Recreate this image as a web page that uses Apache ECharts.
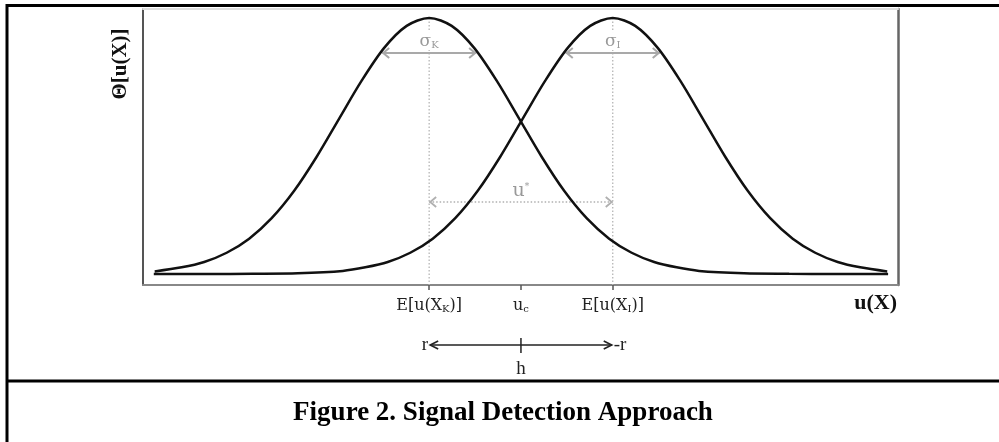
<!DOCTYPE html>
<html><head><meta charset="utf-8">
<script src="https://cdn.jsdelivr.net/npm/echarts@6/dist/echarts.min.js"></script>
<style>html,body{margin:0;padding:0;background:#fff}#c{width:999px;height:442px}</style>
</head><body><div id="c"></div>
<script>
// ---- data ----
const tickValues = [-1.02, 0, 1.02];
const tickLabels = ['E[u(X{s|K})]', 'u{s|c}', 'E[u(X{s|I})]'];

const curveK_u = [-4.07, -3.77, -3.52, -3.27, -3.02, -2.77, -2.52, -2.27, -2.02, -1.77, -1.52, -1.27, -1.02, -0.77, -0.52, -0.27, -0.02, 0.23, 0.48, 0.73, 0.98, 1.23, 1.48, 1.73, 1.98, 2.48, 2.98, 3.48, 4.08];
const curveK_v = [0.010, 0.026, 0.047, 0.083, 0.138, 0.218, 0.325, 0.458, 0.607, 0.755, 0.883, 0.969, 1.000, 0.969, 0.883, 0.755, 0.607, 0.458, 0.325, 0.218, 0.138, 0.083, 0.047, 0.026, 0.012, 0.003, 0.001, 0.000, 0.000];
const curveI_u = [-4.08, -3.48, -2.98, -2.48, -1.98, -1.73, -1.48, -1.23, -0.98, -0.73, -0.48, -0.23, 0.02, 0.27, 0.52, 0.77, 1.02, 1.27, 1.52, 1.77, 2.02, 2.27, 2.52, 2.77, 3.02, 3.27, 3.52, 3.77, 4.07];
const curveI_v = [0.000, 0.000, 0.001, 0.003, 0.012, 0.026, 0.047, 0.083, 0.138, 0.218, 0.325, 0.458, 0.607, 0.755, 0.883, 0.969, 1.000, 0.969, 0.883, 0.755, 0.607, 0.458, 0.325, 0.218, 0.138, 0.083, 0.047, 0.026, 0.010];

const peakU = [-1.02, 1.02];
const sigmaHalf = [0.522, 0.522];
const sigmaLevel = [0.863, 0.863];
const sigmaSubs = ['K', 'I'];
const uStarLevel = 0.281;
const arrowTexts = ['r', '-r', 'h'];
const yAxisName = 'Θ[u(X)]';
const xAxisName = 'u(X)';
const caption = 'Figure 2. Signal Detection Approach';

const xMin = -4.2, xMax = 4.19, yMin = -0.043, yMax = 1.035;

// ---- helpers ----
function chevron(tx, ty, dir, len, half, color, lw) {
  return {type: 'polyline', shape: {points: [[tx - dir * len, ty - half], [tx, ty], [tx - dir * len, ty + half]]},
    style: {stroke: color, lineWidth: lw, fill: null}};
}
const GRAY = '#a9a9a9';
const CAMB = '"DejaVu Serif", serif';
const TIMES = '"Liberation Serif", serif';

const chart = echarts.init(document.getElementById('c'), null, {renderer: 'canvas'});
chart.setOption({
  animation: false,
  backgroundColor: '#fff',
  grid: {left: 143, right: 101, top: 9, bottom: 157},
  xAxis: [{
    type: 'value', min: xMin, max: xMax,
    axisLine: {onZero: false, lineStyle: {color: '#888', width: 2}},
    axisTick: {show: true, customValues: tickValues, length: 5, lineStyle: {color: '#555', width: 1.5}},
    axisLabel: {
      customValues: tickValues, margin: 13, color: '#222', fontFamily: CAMB, fontSize: 16,
      formatter: function (v) {
        for (let i = 0; i < tickValues.length; i++) if (Math.abs(tickValues[i] - v) < 1e-6) return tickLabels[i];
        return '';
      },
      rich: {s: {fontSize: 10, fontFamily: CAMB, color: '#222', verticalAlign: 'bottom', lineHeight: 6}}
    },
    splitLine: {show: false}
  }, {
    type: 'value', min: xMin, max: xMax, position: 'top',
    axisLine: {onZero: false, lineStyle: {color: '#ddd', width: 2}}, axisTick: {show: false}, axisLabel: {show: false}, splitLine: {show: false}
  }],
  yAxis: [{
    type: 'value', min: yMin, max: yMax,
    axisLine: {show: true, onZero: false, lineStyle: {color: '#555', width: 2}}, axisTick: {show: false}, axisLabel: {show: false}, splitLine: {show: false}
  }, {
    type: 'value', min: yMin, max: yMax, position: 'right',
    axisLine: {show: true, onZero: false, lineStyle: {color: '#666', width: 2.5}}, axisTick: {show: false}, axisLabel: {show: false}, splitLine: {show: false}
  }],
  series: [
    {
      type: 'custom', coordinateSystem: 'cartesian2d', z: 1, silent: true,
      data: peakU.map((u, i) => [u, sigmaHalf[i], sigmaLevel[i]]),
      renderItem: function (params, api) {
        const c = api.value(0), hw = api.value(1), lvl = api.value(2);
        const top = api.coord([c, 1]), bot = api.coord([c, yMin]);
        const p1 = api.coord([c - hw, lvl]), p2 = api.coord([c + hw, lvl]);
        return {type: 'group', children: [
          {type: 'line', shape: {x1: top[0], y1: top[1], x2: bot[0], y2: bot[1]}, style: {stroke: '#b5b5b5', lineWidth: 1.3, lineDash: [1.5, 2]}},
          {type: 'text', x: top[0], y: p1[1] - 3, style: {text: 'σ{s|' + sigmaSubs[params.dataIndex] + '}', fill: '#999', fontSize: 17, fontFamily: CAMB,
            align: 'center', verticalAlign: 'bottom', backgroundColor: '#fff', padding: [1, 2, 0, 2],
            rich: {s: {fontSize: 10, fontFamily: CAMB, fill: '#999', verticalAlign: 'bottom', lineHeight: 6}}}},
          {type: 'line', shape: {x1: p1[0], y1: p1[1], x2: p2[0], y2: p2[1]}, style: {stroke: GRAY, lineWidth: 2}},
          chevron(p1[0] + 1, p1[1], -1, 6, 5, GRAY, 2),
          chevron(p2[0] - 1, p2[1], 1, 6, 5, GRAY, 2)
        ]};
      }
    },
    {
      type: 'line', data: curveK_u.map((u, i) => [u, curveK_v[i]]), smooth: 0.3, showSymbol: false, z: 3,
      lineStyle: {color: '#111', width: 2.5}
    },
    {
      type: 'line', data: curveI_u.map((u, i) => [u, curveI_v[i]]), smooth: 0.3, showSymbol: false, z: 3,
      lineStyle: {color: '#111', width: 2.5}
    },
    {
      type: 'custom', coordinateSystem: 'cartesian2d', z: 2, silent: true,
      data: [[tickValues[0], tickValues[2], uStarLevel]],
      renderItem: function (params, api) {
        const a = api.value(0), b = api.value(1), lvl = api.value(2);
        const p1 = api.coord([a, lvl]), p2 = api.coord([b, lvl]), pm = api.coord([(a + b) / 2, lvl]);
        return {type: 'group', children: [
          {type: 'line', shape: {x1: p1[0], y1: p1[1], x2: p2[0], y2: p2[1]}, style: {stroke: '#b0b0b0', lineWidth: 1.5, lineDash: [1.5, 2]}},
          chevron(p1[0] + 1, p1[1], -1, 6, 5, '#b0b0b0', 1.8),
          chevron(p2[0] - 1, p2[1], 1, 6, 5, '#b0b0b0', 1.8),
          {type: 'text', x: pm[0], y: p1[1] - 1, style: {text: 'u{t|*}', fill: '#999', fontSize: 19, fontFamily: CAMB,
            align: 'center', verticalAlign: 'bottom',
            rich: {t: {fontSize: 9, fontFamily: CAMB, fill: '#999', verticalAlign: 'top', lineHeight: 8}}}}
        ]};
      }
    },
    {
      type: 'custom', coordinateSystem: 'cartesian2d', z: 2, silent: true, clip: false,
      data: [[tickValues[0], tickValues[1], tickValues[2]]],
      renderItem: function (params, api) {
        const l = api.coord([api.value(0), yMin]), m = api.coord([api.value(1), yMin]), r = api.coord([api.value(2), yMin]);
        const y = l[1] + 60;
        return {type: 'group', children: [
          {type: 'line', shape: {x1: l[0] + 1, y1: y, x2: r[0] - 1, y2: y}, style: {stroke: '#222', lineWidth: 1.5}},
          chevron(l[0] + 1, y, -1, 8, 4, '#222', 1.6),
          chevron(r[0] - 1, y, 1, 8, 4, '#222', 1.6),
          {type: 'line', shape: {x1: m[0], y1: y - 7, x2: m[0], y2: y + 8}, style: {stroke: '#222', lineWidth: 1.5}},
          {type: 'text', x: l[0] - 1, y: y, style: {text: arrowTexts[0], fill: '#222', fontSize: 19, fontFamily: TIMES, align: 'right', verticalAlign: 'middle'}},
          {type: 'text', x: r[0] + 1, y: y, style: {text: arrowTexts[1], fill: '#222', fontSize: 19, fontFamily: TIMES, align: 'left', verticalAlign: 'middle'}},
          {type: 'text', x: m[0], y: y + 24, style: {text: arrowTexts[2], fill: '#222', fontSize: 19, fontFamily: TIMES, align: 'center', verticalAlign: 'middle'}}
        ]};
      }
    }
  ],
  graphic: [
    {type: 'line', shape: {x1: 6, y1: 5.5, x2: 999, y2: 5.5}, style: {stroke: '#000', lineWidth: 3}},
    {type: 'line', shape: {x1: 7, y1: 4, x2: 7, y2: 442}, style: {stroke: '#000', lineWidth: 3}},
    {type: 'line', shape: {x1: 6, y1: 381, x2: 999, y2: 381}, style: {stroke: '#000', lineWidth: 3}},
    {type: 'text', x: 121, y: 64, rotation: Math.PI / 2,
      style: {text: yAxisName, fill: '#111', font: 'bold 21px "Liberation Serif"', align: 'center', verticalAlign: 'middle'}},
    {type: 'text', x: 897, y: 303,
      style: {text: xAxisName, fill: '#111', font: 'bold 22px "Liberation Serif"', align: 'right', verticalAlign: 'middle'}},
    {type: 'text', x: 503, y: 413,
      style: {text: caption, fill: '#000', font: 'bold 27px "Liberation Serif"', align: 'center', verticalAlign: 'middle'}}
  ]
});
</script>
</body></html>
